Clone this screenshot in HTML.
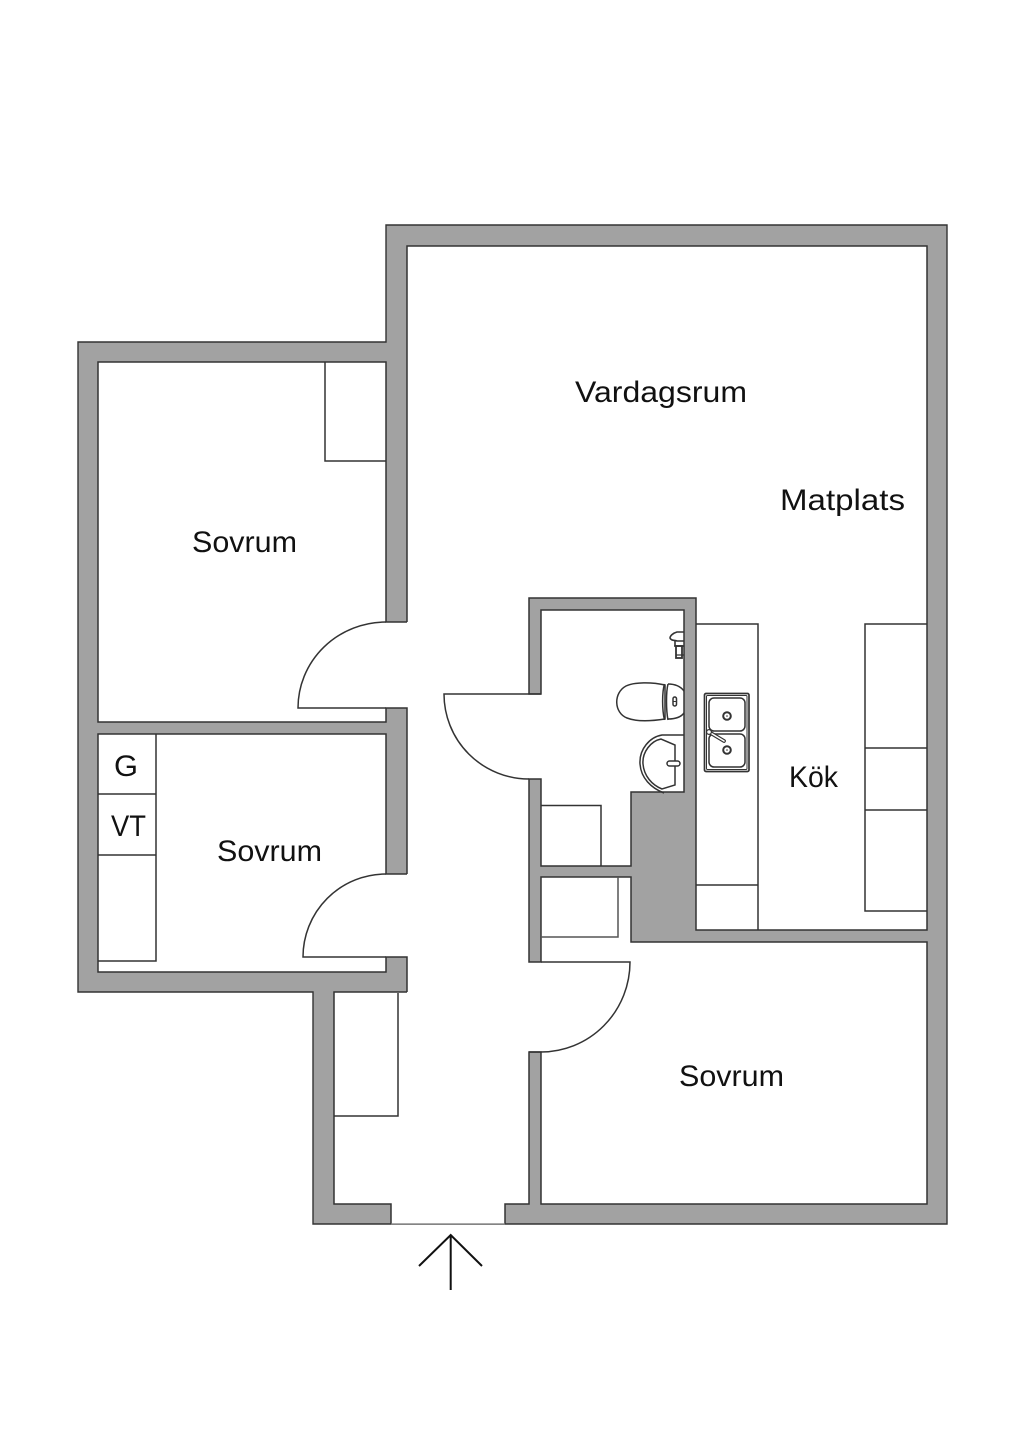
<!DOCTYPE html>
<html>
<head>
<meta charset="utf-8">
<title>Planlösning</title>
<style>
html,body{margin:0;padding:0;background:#fff;width:1024px;height:1448px;overflow:hidden}
svg{display:block}
text{font-family:"Liberation Sans",sans-serif;font-size:30px;fill:#111}
</style>
</head>
<body>
<svg width="1024" height="1448" viewBox="0 0 1024 1448" xmlns="http://www.w3.org/2000/svg">
<rect width="1024" height="1448" fill="#fff"/>
<!-- outer walls -->
<polygon points="386,225 947,225 947,1224 313,1224 313,992 78,992 78,342 386,342" fill="#a2a2a2" stroke="#333" stroke-width="1.4"/>
<!-- interior white -->
<polygon points="407,246 927,246 927,930 696,930 696,598 529,598 529,694 541,694 541,610 684,610 684,792 631,792 631,866 541,866 541,779 529,779 529,962 541,962 541,877 631,877 631,942 927,942 927,1204 541,1204 541,1052 529,1052 529,1204 505,1204 505,1224 391,1224 391,1204 334,1204 334,992 407,992 407,957 386,957 386,972 98,972 98,734 386,734 386,874 407,874 407,708 386,708 386,722 98,722 98,362 386,362 386,622 407,622" fill="#fff"/>
<g fill="none" stroke="#333" stroke-width="1.5">
<path d="M407,622 L407,246 927,246 927,930 696,930 696,598 529,598 529,694 541,694 541,610 684,610 684,792 631,792 631,866 541,866 541,779 529,779 529,962 541,962 541,877 631,877 631,942 927,942 927,1204 541,1204 541,1052 529,1052 529,1204 505,1204 505,1224"/>
<path d="M391,1224 L391,1204 334,1204 334,992 407,992"/>
<path d="M407,874 L386,874 386,734 98,734 98,972 386,972 386,957 407,957 407,992"/>
<path d="M407,874 V708 L386,708 386,722 98,722 98,362 386,362 386,622 407,622"/>
<path d="M391,1224 H505" stroke="#777" stroke-width="1.2"/>
<!-- furniture -->
<path d="M325,362 V461 H386"/>
<path d="M541,805.5 H601 V866"/>
<path d="M618,877 V937 H541" stroke="#555"/>
<path d="M696,624 H758 V930"/>
<path d="M696,885 H758"/>
<path d="M927,624 H865 V911 H927"/>
<path d="M865,748 H927 M865,810 H927"/>
<path d="M156,734 V961 H98"/>
<path d="M98,794 H156 M98,855 H156"/>
<path d="M334,1116 H398 V993"/>
<!-- doors -->
<path d="M386,622 A88,86 0 0 0 298,708 H386"/>
<path d="M386,874 A83,83 0 0 0 303,957 H386"/>
<path d="M541,694 H444 A85,85 0 0 0 529,779"/>
<path d="M541,962 H630 A89,90 0 0 1 541,1052 H529"/>
<!-- toilet -->
<path d="M665,685 C652,682 634,682 626,686 C613,693 614,713 627,718 C637,722 652,721 665,719 Z"/>
<path d="M664.500,684 C662,692 662,710 664.500,720"/>
<path d="M668,684 C666,692 666,710 668,720"/>
<path d="M668,684 C676,684 681,687 684,691 M668,719 C676,719 681,717 684,713"/>
<rect x="673" y="697" width="3.500" height="9" rx="1.700"/>
<path d="M673,701.500 H676.500" stroke-width="1"/>
<!-- wash basin -->
<path d="M684,735 H662 C650,737 639,749 640,764 C641,778 651,788 664,793"/>
<path d="M661,739 C651,741 642,752 643,764 C644,776 652,785 662,789 L675,785 V745 Z"/>
<rect x="667" y="761" width="13" height="5" rx="2.500" fill="#fff"/>
<!-- shower -->
<path d="M684,632 H677 C673,633 670,636 670,638 C671,641 675,640 677,641 L684,641" stroke-width="1.600"/>
<path d="M675,641 V646 H684" stroke-width="1.600"/>
<rect x="676" y="646" width="6" height="12" stroke-width="1.800"/>
<path d="M674,646 H684 M676,655 H684" stroke-width="1.200"/>
<!-- kitchen sink -->
<rect x="704.500" y="693.500" width="44.500" height="78" rx="1.500" stroke-width="1.700"/>
<rect x="706.500" y="695.500" width="40.500" height="74" rx="1" stroke-width="1"/>
<rect x="709" y="698" width="36" height="33" rx="5"/>
<rect x="709" y="734" width="36" height="33" rx="5"/>
<circle cx="727" cy="716" r="3.800" stroke-width="2"/>
<circle cx="727" cy="750" r="3.800" stroke-width="2"/>
<circle cx="727" cy="716" r="0.800" fill="#333" stroke="none"/>
<circle cx="727" cy="750" r="0.800" fill="#333" stroke="none"/>
<path d="M709,732 L724,741" stroke="#333" stroke-width="3.800" stroke-linecap="round"/>
<path d="M709,732 L724,741" stroke="#fff" stroke-width="1.600" stroke-linecap="round"/>
<circle cx="709" cy="732" r="2.400" fill="#fff" stroke-width="1.200"/>
</g>
<!-- entry arrow -->
<path d="M450.700,1290 V1235 M419,1266 L450.700,1235 L482,1266" fill="none" stroke="#111" stroke-width="2"/>
<!-- labels -->
<text x="575" y="402" textLength="172" lengthAdjust="spacingAndGlyphs">Vardagsrum</text>
<text x="780" y="510" textLength="125" lengthAdjust="spacingAndGlyphs">Matplats</text>
<text x="192" y="552" textLength="105" lengthAdjust="spacingAndGlyphs">Sovrum</text>
<text x="217" y="861" textLength="105" lengthAdjust="spacingAndGlyphs">Sovrum</text>
<text x="679" y="1086" textLength="105" lengthAdjust="spacingAndGlyphs">Sovrum</text>
<text x="789" y="787" textLength="49" lengthAdjust="spacingAndGlyphs">Kök</text>
<text x="114" y="776" textLength="24" lengthAdjust="spacingAndGlyphs">G</text>
<text x="111" y="836" textLength="35" lengthAdjust="spacingAndGlyphs">VT</text>
</svg>
</body>
</html>
